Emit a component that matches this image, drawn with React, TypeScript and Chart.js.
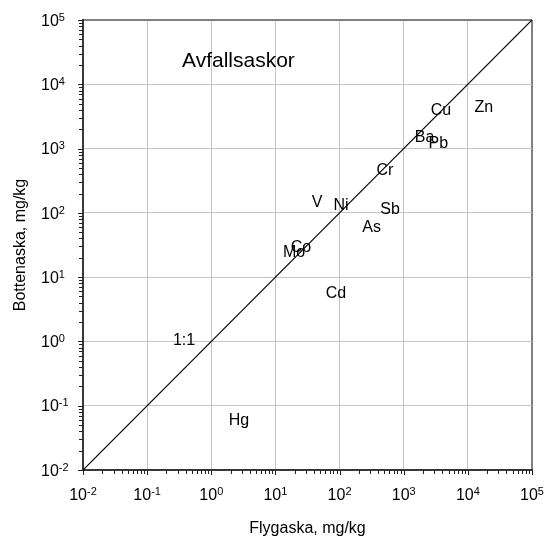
import React, { useEffect, useRef } from 'react';
import { Chart, registerables } from 'chart.js';
Chart.register(...registerables);

const elements = ['Cu', 'Zn', 'Ba', 'Pb', 'Cr', 'V', 'Ni', 'Sb', 'As', 'Co', 'Mo', 'Cd', 'Hg'];
const flygaska = [3800, 17700, 2120, 3460, 511, 44.5, 105, 611, 317, 25, 19.5, 88, 2.7];
const bottenaska = [4100, 4590, 1570, 1265, 481, 153, 137, 117, 62.5, 30.5, 25.5, 5.9, 0.062];
const lineX = [0.01, 100000];
const lineY = [0.01, 100000];
const lineLabel = '1:1';
const lineLabelX = [0.376];
const lineLabelY = [1.07];
const decadeExponents = [-2, -1, 0, 1, 2, 3, 4, 5];
const titleText = 'Avfallsaskor';
const xTitle = 'Flygaska, mg/kg';
const yTitle = 'Bottenaska, mg/kg';

const FONT = '"Liberation Sans", Arial, sans-serif';

const isDecade = (v: number) => {
  const l = Math.log10(v);
  return Math.abs(l - Math.round(l)) < 1e-6;
};

const gridColor = (ctx: any) => {
  const v = ctx.tick ? ctx.tick.value : null;
  if (v == null) return 'rgba(0,0,0,0)';
  if (!isDecade(v)) return 'rgba(0,0,0,0)';
  if (Math.abs(v - 1e5) < 1) return '#808080';
  return '#c4c4c4';
};
const gridWidth = (ctx: any) => {
  const v = ctx.tick ? ctx.tick.value : null;
  if (v != null && Math.abs(v - 1e5) < 1) return 2;
  return 1;
};

const drawPlugin = {
  id: 'customText',
  afterDraw(chart: any) {
    const { ctx, chartArea: a } = chart;
    const xs = chart.scales.x;
    const ys = chart.scales.y;
    ctx.save();
    // tick marks
    ctx.strokeStyle = '#222';
    ctx.lineWidth = 1;
    ctx.beginPath();
    for (let i = 0; i < decadeExponents.length; i++) {
      const k = decadeExponents[i];
      for (let m = 1; m <= 9; m++) {
        if (i === decadeExponents.length - 1 && m > 1) break;
        const v = m * Math.pow(10, k);
        const len = m === 1 ? 5 : 4;
        const px = Math.round(xs.getPixelForValue(v)) + 0.5;
        ctx.moveTo(px, a.bottom);
        ctx.lineTo(px, a.bottom + len);
        const py = Math.round(ys.getPixelForValue(v)) + 0.5;
        ctx.moveTo(a.left, py);
        ctx.lineTo(a.left - len, py);
      }
    }
    ctx.stroke();

    // tick labels
    ctx.fillStyle = '#000';
    ctx.textBaseline = 'alphabetic';
    const big = '16px ' + FONT;
    const small = '11px ' + FONT;
    for (const k of decadeExponents) {
      const v = Math.pow(10, k);
      const exp = String(k);
      ctx.font = big;
      const w1 = ctx.measureText('10').width;
      ctx.font = small;
      const w2 = ctx.measureText(exp).width;
      // x axis
      const px = xs.getPixelForValue(v);
      const start = px - (w1 + w2) / 2;
      ctx.textAlign = 'left';
      ctx.font = big;
      ctx.fillText('10', start, a.bottom + 30);
      ctx.font = small;
      ctx.fillText(exp, start + w1, a.bottom + 25);
      // y axis
      const py = ys.getPixelForValue(v);
      ctx.font = big;
      ctx.fillText('10', 41, py + 5.7);
      ctx.font = small;
      ctx.fillText(exp, 41 + w1, py + 0.7);
    }

    // element labels
    ctx.font = '16px ' + FONT;
    ctx.textAlign = 'center';
    const meta = chart.getDatasetMeta(1);
    meta.data.forEach((pt: any, i: number) => {
      ctx.fillText(elements[i], pt.x, pt.y + 5.7);
    });
    // 1:1 label
    ctx.fillText(lineLabel, xs.getPixelForValue(lineLabelX[0]), ys.getPixelForValue(lineLabelY[0]) + 5.7);

    // title inside plot
    ctx.font = '21px ' + FONT;
    ctx.textAlign = 'left';
    ctx.fillText(titleText, a.left + 99, a.top + 46.7);

    // axis titles
    ctx.font = '16px ' + FONT;
    ctx.textAlign = 'center';
    ctx.fillText(xTitle, (a.left + a.right) / 2, 533);
    ctx.translate(25, (a.top + a.bottom) / 2);
    ctx.rotate(-Math.PI / 2);
    ctx.fillText(yTitle, 0, 0);
    ctx.restore();
  },
};

export default function App() {
  const ref = useRef<HTMLCanvasElement | null>(null);
  useEffect(() => {
    if (!ref.current) return;
    const axis = {
      type: 'logarithmic' as const,
      min: 0.01,
      max: 100000,
      ticks: { display: false },
      grid: { drawTicks: false, color: gridColor, lineWidth: gridWidth },
      border: { color: '#383838', width: 2 },
    };
    const chart = new Chart(ref.current, {
      type: 'scatter',
      data: {
        datasets: [
          {
            type: 'line',
            data: lineX.map((v, i) => ({ x: v, y: lineY[i] })),
            borderColor: '#000',
            borderWidth: 1.2,
            pointRadius: 0,
            fill: false,
          } as any,
          {
            type: 'scatter',
            data: elements.map((_, i) => ({ x: flygaska[i], y: bottenaska[i] })),
            pointRadius: 0,
            showLine: false,
          } as any,
        ],
      },
      options: {
        responsive: false,
        maintainAspectRatio: false,
        animation: false,
        layout: { padding: { left: 83, top: 20, right: 14, bottom: 68 } },
        plugins: { legend: { display: false }, tooltip: { enabled: false }, title: { display: false } },
        scales: { x: axis as any, y: axis as any },
      },
      plugins: [drawPlugin],
    });
    return () => chart.destroy();
  }, []);
  return (
    <div style={{ position: 'fixed', left: 0, top: 0, width: 546, height: 538, background: '#fff' }}>
      <canvas ref={ref} width={546} height={538} style={{ display: 'block', width: 546, height: 538 }} />
    </div>
  );
}
